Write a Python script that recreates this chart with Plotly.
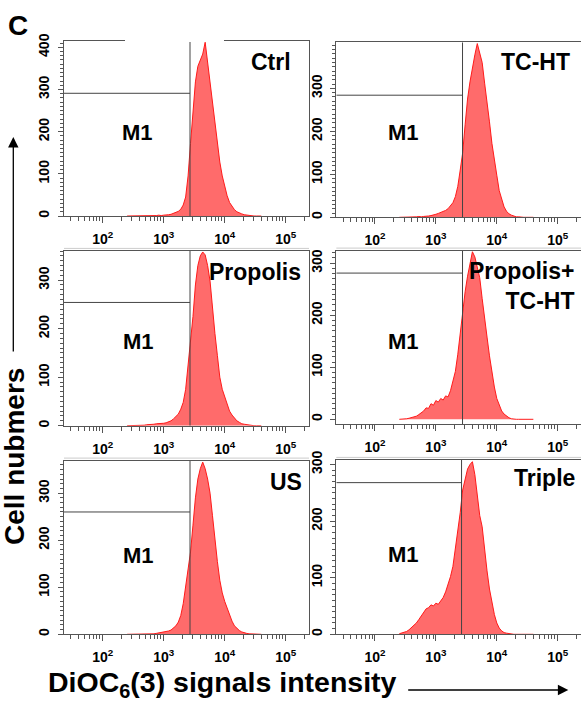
import numpy as np
import plotly.graph_objects as go

# ---------------- data ----------------
LOG_BINS = [2.40, 2.44, 2.48, 2.52, 2.56, 2.60, 2.64, 2.68, 2.72, 2.76,
            2.80, 2.84, 2.88, 2.92, 2.96,
            3.00, 3.04, 3.08, 3.12, 3.16, 3.20, 3.24, 3.28, 3.32, 3.36,
            3.40, 3.44, 3.48, 3.52, 3.56, 3.60, 3.64, 3.68, 3.72, 3.76,
            3.80, 3.84, 3.88, 3.92, 3.96, 4.00, 4.04, 4.08, 4.12, 4.16,
            4.20, 4.24, 4.28, 4.32, 4.36, 4.40, 4.44, 4.48, 4.52, 4.56, 4.60]

CTRL = [0, 0, 0, 1, 0, 0, 1, 0, 0, 1,
        1, 1, 1, 2, 1,
        2, 2, 3, 4, 6, 8, 11, 16, 26, 45,
        95, 172, 245, 318, 355, 370, 384, 412, 365, 320,
        270, 215, 165, 128, 95, 68, 48, 32, 22, 15,
        10, 7, 5, 3, 2, 1, 1, 0, 0, 0, 0]
TCHT = [0, 0, 1, 0, 1, 1, 1, 1, 2, 1,
        2, 2, 3, 4, 5,
        7, 9, 11, 14, 16, 20, 26, 34, 48, 72,
        110, 150, 215, 275, 315, 350, 378, 404, 385, 360,
        312, 270, 222, 172, 130, 98, 62, 40, 24, 14,
        8, 5, 3, 1, 1, 0, 0, 0, 0, 0, 0]
PROPOLIS = [0, 0, 1, 0, 0, 1, 1, 1, 2, 2,
            3, 3, 4, 4, 5,
            5, 6, 8, 10, 14, 18, 24, 34, 48, 75,
            122, 165, 225, 290, 330, 350, 358, 352, 330, 298,
            240, 190, 145, 100, 75, 60, 44, 30, 22, 15,
            10, 7, 4, 3, 2, 1, 1, 0, 0, 0, 0]
PROP_TCHT = [0, 0, 1, 1, 2, 3, 4, 6, 9, 12,
             16, 22, 21, 30, 27,
             36, 33, 40, 37, 45, 43, 55, 72, 92, 125,
             165, 210, 245, 275, 300, 322, 312, 290, 272, 232,
             190, 158, 122, 88, 62, 40, 26, 16, 10, 6,
             3, 1, 0, 0, 0, 0, 0, 0, 0, 0, 0]
US = [0, 0, 0, 0, 1, 0, 0, 1, 1, 0,
      1, 1, 2, 3, 3,
      4, 5, 7, 9, 13, 18, 26, 40, 65, 100,
      140, 175, 232, 290, 330, 352, 366, 352, 330, 300,
      252, 200, 155, 115, 88, 70, 55, 40, 28, 18,
      12, 8, 5, 3, 2, 1, 1, 0, 0, 0, 0]
TRIPLE = [1, 2, 3, 5, 8, 12, 15, 20, 26, 33,
          38, 45, 47, 52, 50,
          55, 53, 58, 65, 75, 88, 102, 120, 150, 185,
          215, 255, 275, 292, 300, 305, 282, 240, 210, 190,
          145, 112, 80, 55, 35, 20, 11, 6, 3, 2,
          1, 0, 0, 0, 0, 0, 0, 0, 0, 0, 0]

PANEL_NAMES = ["Ctrl", "TC-HT", "Propolis", "Propolis+<br>TC-HT", "US", "Triple"]
SERIES = [CTRL, TCHT, PROPOLIS, PROP_TCHT, US, TRIPLE]
GATE_X = [2700, 2740, 2700, 2740, 2700, 2640]     # M1 marker boundary
GATE_H = [291, 284, 254, 281, 260, 268]           # M1 marker bar height
Y_MIN = [0, 0, 0, -9.6, 0, 0]
Y_MAX = [415, 407, 360, 324, 369, 308]
Y_TICKS = [[0, 100, 200, 300, 400], [0, 100, 200, 300], [0, 100, 200, 300],
           [0, 100, 200, 300], [0, 100, 200, 300], [0, 100, 200, 300]]
X_TICK_VALS = [1e2, 1e3, 1e4, 1e5]
X_TICK_TEXT = ["10<sup>2</sup>", "10<sup>3</sup>", "10<sup>4</sup>", "10<sup>5</sup>"]
X_RANGE_LOG = [1.366, 5.382]

# ---------------- layout geometry (pixels) ----------------
W, H = 581, 706
BOXES = [(64, 309, 41, 216), (336.3, 581, 42.3, 217.3),
         (64, 309, 251, 425.7), (336.3, 581, 250.7, 424.3),
         (64, 309, 460.7, 634.3), (336.3, 581, 460, 634.3)]
LABEL_POS = [(0.935, 0.882, "right"), (0.962, 0.887, "right"),
             (0.585, 0.880, "left"), (0.980, 0.797, "right"),
             (0.834, 0.878, "left"), (0.982, 0.895, "right")]
M1_POS = [(0.302, 0.476), (0.273, 0.487), (0.303, 0.480),
          (0.273, 0.475), (0.303, 0.456), (0.273, 0.456)]

FONT = "Liberation Sans, Arial, sans-serif"
AXC = "#555555"
minor_x = [d * 10 ** e for e in range(1, 6) for d in range(2, 10)]

fig = go.Figure()
layout = dict(template="none", width=W, height=H, autosize=False,
              margin=dict(l=0, r=0, t=0, b=0, pad=0),
              paper_bgcolor="white", plot_bgcolor="white", showlegend=False,
              font=dict(family=FONT, color="black"))
annotations = []
shapes = []

x_bins = [10 ** v for v in LOG_BINS]
for i in range(6):
    n = i + 1
    xa = "x" if n == 1 else f"x{n}"
    ya = "y" if n == 1 else f"y{n}"
    x0, x1, yt, yb = BOXES[i]
    fig.add_trace(go.Scatter(x=x_bins, y=SERIES[i], mode="lines", fill="tozeroy",
                             line=dict(color="#ff1a1a", width=1),
                             fillcolor="#ff6b6b", xaxis=xa, yaxis=ya,
                             hoverinfo="skip"))
    xl = 10 ** X_RANGE_LOG[0]
    fig.add_trace(go.Scatter(x=[xl, GATE_X[i], None, GATE_X[i], GATE_X[i]],
                             y=[GATE_H[i], GATE_H[i], None, Y_MIN[i], Y_MAX[i]],
                             mode="lines", line=dict(color="#444444", width=1),
                             xaxis=xa, yaxis=ya, hoverinfo="skip"))
    layout[f"xaxis{'' if n == 1 else n}"] = dict(
        domain=[x0 / W, x1 / W], anchor=ya, type="log", range=X_RANGE_LOG,
        automargin=False, fixedrange=True,
        showgrid=False, zeroline=False, showline=True, mirror=True,
        linecolor=AXC, linewidth=1, ticks="outside", ticklen=6, tickcolor=AXC,
        tickvals=X_TICK_VALS, ticktext=X_TICK_TEXT, ticklabelstandoff=4,
        tickfont=dict(size=14, family=FONT, weight="bold", color="black"),
        minor=dict(ticks="outside", ticklen=4, tickcolor=AXC, tickvals=minor_x,
                   showgrid=False))
    layout[f"yaxis{'' if n == 1 else n}"] = dict(
        domain=[1 - yb / H, 1 - yt / H], anchor=xa, range=[Y_MIN[i], Y_MAX[i]],
        automargin=False, fixedrange=True,
        showgrid=False, zeroline=False, showline=True, mirror=True,
        linecolor=AXC, linewidth=1, ticks="outside", ticklen=5, tickcolor=AXC,
        tickvals=Y_TICKS[i], tickangle=-90, ticklabelstandoff=3,
        tickfont=dict(size=14, family=FONT, weight="bold", color="black"),
        minor=dict(ticks="outside", ticklen=3, tickcolor=AXC, dtick=10,
                   showgrid=False))
    lx, ly, anc = LABEL_POS[i]
    annotations.append(dict(text=PANEL_NAMES[i], x=lx, y=ly, xref=f"{xa} domain",
                            yref=f"{ya} domain", xanchor=anc, yanchor="middle",
                            align=anc, showarrow=False,
                            font=dict(size=23, family=FONT, weight="bold")))
    mx, my = M1_POS[i]
    annotations.append(dict(text="M1", x=mx, y=my, xref=f"{xa} domain",
                            yref=f"{ya} domain", xanchor="center", yanchor="middle",
                            showarrow=False, font=dict(size=22, family=FONT, weight="bold")))
    if i >= 2:
        shapes.append(dict(type="line", xref="paper", yref="paper",
                           x0=x0 / W, x1=min(x1, W) / W,
                           y0=1 - (yt - 2.6) / H, y1=1 - (yt - 2.6) / H,
                           line=dict(color="#cccccc", width=1)))

# gap in the top frame of the first panel
shapes.append(dict(type="line", xref="x domain", yref="y domain", x0=0.249, x1=0.653,
                   y0=1, y1=1, line=dict(color="white", width=2), layer="above"))

# panel letter, axis titles and arrows
annotations.append(dict(text="C", x=17.5 / W, y=1 - 25 / H, xref="paper", yref="paper",
                        xanchor="center", yanchor="middle", showarrow=False,
                        font=dict(size=28, family=FONT, weight="bold")))
annotations.append(dict(text="Cell nubmers", x=14.5 / W, y=1 - 456.5 / H, xref="paper",
                        yref="paper", xanchor="center", yanchor="middle", textangle=-90,
                        showarrow=False, font=dict(size=28, family=FONT, weight="bold")))
annotations.append(dict(text="DiOC<sub>6</sub>(3) signals intensity", x=222.5 / W,
                        y=1 - 684 / H, xref="paper", yref="paper", xanchor="center",
                        yanchor="middle", showarrow=False,
                        font=dict(size=28.5, family=FONT, weight="bold")))
annotations.append(dict(text="", x=568.3 / W, y=1 - 690 / H, xref="paper", yref="paper",
                        showarrow=True, ax=-161.6, ay=0, arrowhead=2, arrowsize=1.6,
                        arrowwidth=1.3, arrowcolor="black", standoff=0))
annotations.append(dict(text="", x=13.3 / W, y=1 - 137 / H, xref="paper", yref="paper",
                        showarrow=True, ax=0, ay=216, arrowhead=2, arrowsize=1.6,
                        arrowwidth=1.3, arrowcolor="black", standoff=0))

layout["annotations"] = annotations
layout["shapes"] = shapes
fig.update_layout(**layout)
fig.write_html("out.html",
               config={"displayModeBar": False, "staticPlot": True},
               post_script="document.body.style.margin='0';"
                           "document.body.style.overflow='hidden';")
